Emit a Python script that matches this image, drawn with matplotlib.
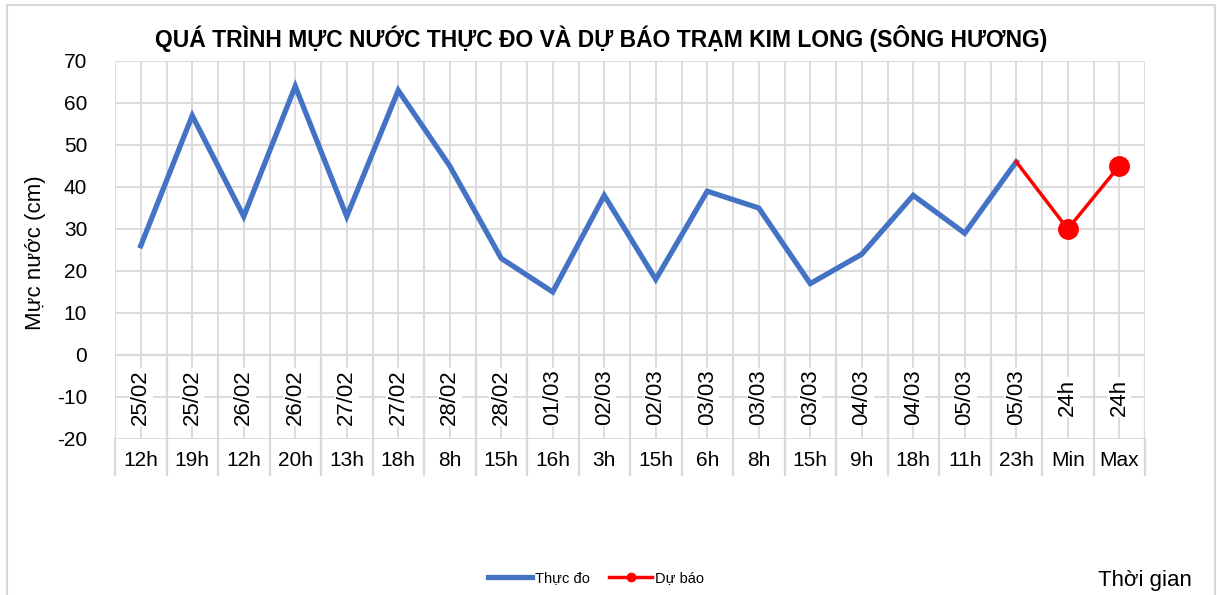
import numpy as np
import matplotlib.pyplot as plt
from matplotlib.lines import Line2D
from matplotlib.patches import Rectangle

plt.rcParams['font.family'] = ['Liberation Sans Narrow', 'Liberation Sans', 'DejaVu Sans']
plt.rcParams['axes.unicode_minus'] = False

dates = ["25/02", "25/02", "26/02", "26/02", "27/02", "27/02", "28/02", "28/02", "01/03",
         "02/03", "02/03", "03/03", "03/03", "03/03", "04/03", "04/03", "05/03", "05/03",
         "24h", "24h"]
hours = ["12h", "19h", "12h", "20h", "13h", "18h", "8h", "15h", "16h", "3h", "15h", "6h",
         "8h", "15h", "9h", "18h", "11h", "23h", "Min", "Max"]
observed = [26, 57, 33, 64, 33, 63, 45, 23, 15, 38, 18, 39, 35, 17, 24, 38, 29, 46]
forecast = [46, 30, 45]  # last observed point, then Min, Max

grid_c = "#d9d9d9"
blue = "#4472c4"
red = "#ff0000"

fig = plt.figure(figsize=(12.17, 5.95), dpi=100)
ax = fig.add_axes([115 / 1217, 1 - 439 / 595, 1030 / 1217, 378 / 595])

n = len(hours)
ax.set_xlim(0, n)
ax.set_ylim(-20, 70)
ax.set_yticks(range(-20, 71, 10))
ax.set_xticks([])
for s in ax.spines.values():
    s.set_visible(False)
ax.tick_params(axis="y", length=0, labelsize=15, pad=20)

# grid: horizontal every 10, vertical at category centres and boundaries
for yv in range(-20, 71, 10):
    ax.axhline(yv, color=grid_c, lw=1.3, zorder=0)
for xv in np.arange(0, n + 0.01, 0.5):
    ax.axvline(xv, color=grid_c, lw=1.3, zorder=0)

# category labels: dates inside the plot, hours in a row below
for i in range(n):
    ax.text(i + 0.5, -10, dates[i], rotation=90, ha="center", va="center", fontsize=16,
            bbox=dict(facecolor="white", edgecolor="none", pad=1), zorder=1)
    ax.text(i + 0.5, -25, hours[i], ha="center", va="center", fontsize=15, clip_on=False)
for xv in range(n + 1):
    ax.plot([xv, xv], [-20, -28.5], color=grid_c, lw=1.6, clip_on=False, zorder=0)
    ax.plot([xv, xv], [0, -20], color=grid_c, lw=1.6, zorder=0)
ax.axhline(0, color=grid_c, lw=1.6, zorder=0)

x_obs = np.arange(len(observed)) + 0.5
ax.plot(x_obs, observed, color=blue, lw=3.8, zorder=3, solid_joinstyle="miter")
x_fc = np.arange(len(observed) - 1, n) + 0.5
ax.plot(x_fc, forecast, color=red, lw=2.5, zorder=4)
ax.plot(x_fc[1:], forecast[1:], "o", color=red, ms=14, zorder=5)

fig.text(0.494, 0.936, "QUÁ TRÌNH MỰC NƯỚC THỰC ĐO VÀ DỰ BÁO TRẠM KIM LONG (SÔNG HƯƠNG)",
         ha="center", va="center", fontsize=16.5, fontweight="bold")
fig.text(0.029, 0.576, "Mực nước (cm)", rotation=90, ha="center", va="center", fontsize=16)
fig.text(1145 / 1217, 0.025, "Thời gian", ha="center", va="center", fontsize=16)

handles = [Line2D([], [], color=blue, lw=3.8),
           Line2D([], [], color=red, lw=2.5, marker="o", ms=6)]
fig.legend(handles, ["Thực đo", "Dự báo"], loc="center", bbox_to_anchor=(0.49, 0.028),
           ncol=2, frameon=False, fontsize=10.5, handlelength=3.0, columnspacing=1.3,
           handletextpad=0.2)

fig.patches.append(Rectangle((7 / 1217, -0.02), 1208 / 1217, 1 - 5 / 595 + 0.02,
                             transform=fig.transFigure, fill=False, edgecolor=grid_c, lw=1.5))

fig.savefig("out.png", dpi=100)
